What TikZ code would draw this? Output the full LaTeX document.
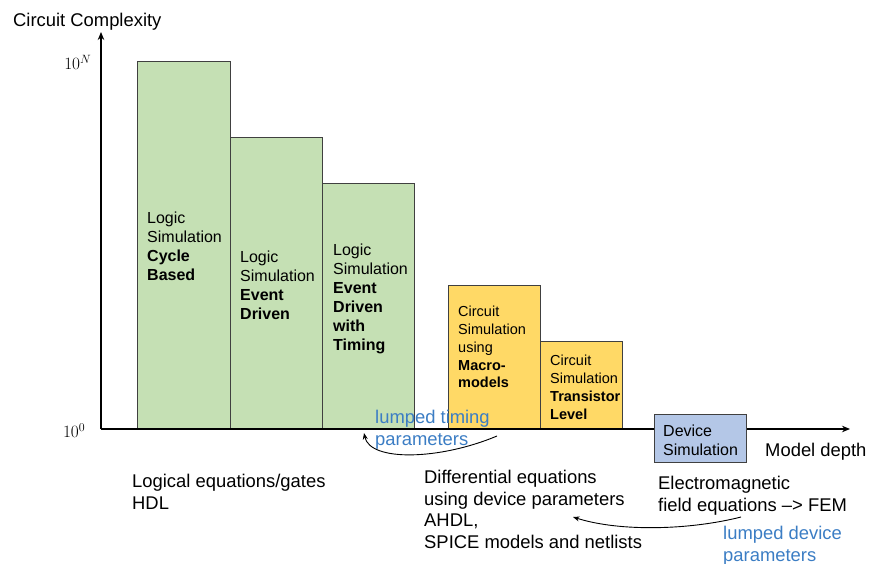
\documentclass[tikz,border=0pt]{standalone}
\usepackage{fontspec}
\setmainfont{Liberation Sans}
\usetikzlibrary{arrows.meta}
\definecolor{boxgreen}{HTML}{C5E0B4}
\definecolor{boxorange}{HTML}{FFD966}
\definecolor{boxblue}{HTML}{B4C7E7}
\definecolor{edgegray}{HTML}{404040}
\definecolor{lblblue}{HTML}{3B7DC4}
\begin{document}
\begin{tikzpicture}[x=1pt,y=-1pt,
  bar/.style={draw=edgegray,line width=0.9pt,inner sep=0pt,anchor=south west},
  gbar/.style={bar,fill=boxgreen},
  obar/.style={bar,fill=boxorange},
  txt/.style={inner sep=0pt,anchor=north west,align=left},
  gtxt/.style={txt,font=\fontsize{16}{19}\selectfont},
  otxt/.style={txt,font=\fontsize{14.5}{17.8}\selectfont},
  big/.style={txt,font=\fontsize{18.4}{21.7}\selectfont},
  bluetxt/.style={big,text=lblblue},
  axis/.style={line width=1.2pt,-{Stealth[length=8pt,width=6.5pt]}},
  curvedarrow/.style={line width=0.9pt,-{Stealth[length=6.5pt,width=5pt]}}
]
\useasboundingbox (0,0) rectangle (869,564);

% axes
\coordinate (O) at (101,429);
\coordinate (ytip) at (101,32);
\coordinate (xtip) at (850,429);

% bars
\node[gbar,minimum width=93pt,minimum height=367pt] (b1) at (137,429) {};
\node[gbar,minimum width=92pt,minimum height=291pt] (b2) at (230,429) {};
\node[gbar,minimum width=92pt,minimum height=245pt] (b3) at (322,429) {};
\node[obar,minimum width=92pt,minimum height=143pt] (o1) at (448,429) {};
\node[obar,minimum width=82pt,minimum height=87pt] (o2) at (540,429) {};

\draw[axis] (O) -- (ytip);
\draw[axis] (O) -- (xtip);

\node[bar,fill=boxblue,minimum width=92pt,minimum height=48pt] (dev) at (654,463) {};

% bar texts
\node[gtxt] (b1t) at (147,212) {Logic\\Simulation\\\textbf{Cycle}\\\textbf{Based}};
\node[gtxt] (b2t) at (240,251) {Logic\\Simulation\\\textbf{Event}\\\textbf{Driven}};
\node[gtxt] (b3t) at (333,244) {Logic\\Simulation\\\textbf{Event}\\\textbf{Driven}\\\textbf{with}\\\textbf{Timing}};
\node[otxt] (o1t) at (458,306) {Circuit\\Simulation\\using\\\textbf{Macro-}\\\textbf{models}};
\node[otxt] (o2t) at (550,355) {Circuit\\Simulation\\\textbf{Transistor}\\\textbf{Level}};
\node[txt,font=\fontsize{16}{18.3}\selectfont] (devt) at (663,425) {Device\\Simulation};

% axis labels
\node[big] (ylab) at (13,13) {Circuit Complexity};
\node[big] (xlab) at (765,443) {Model depth};
\node[inner sep=0pt,anchor=base east,font=\fontsize{16.5}{19}\selectfont] (tenN) at (91.5,69.5) {$10^{N}$};
\node[inner sep=0pt,anchor=base east,font=\fontsize{18}{21}\selectfont] (tenO) at (85.5,437.8) {$10^{0}$};

% bottom texts
\node[big] (logic) at (132,474) {Logical equations/gates\\HDL};
\node[big] (diff) at (424,470) {Differential equations\\using device parameters\\AHDL,\\SPICE models and netlists};
\node[big] (em) at (658,476) {Electromagnetic\\field equations \textendash{}> FEM};
\node[bluetxt] (lt) at (375,410) {lumped timing\\parameters};
\node[bluetxt] (ld) at (723,526) {lumped device\\parameters};

% curved arrows
\coordinate (a1s) at (497,436);
\coordinate (a1e) at (364,433);
\coordinate (a2s) at (741,517);
\coordinate (a2e) at (573,517);
\draw[curvedarrow] (a1s) .. controls (440,460) and (370,462) .. (a1e);
\draw[curvedarrow] (a2s) .. controls (690,530) and (620,532) .. (a2e);
\end{tikzpicture}
\end{document}
